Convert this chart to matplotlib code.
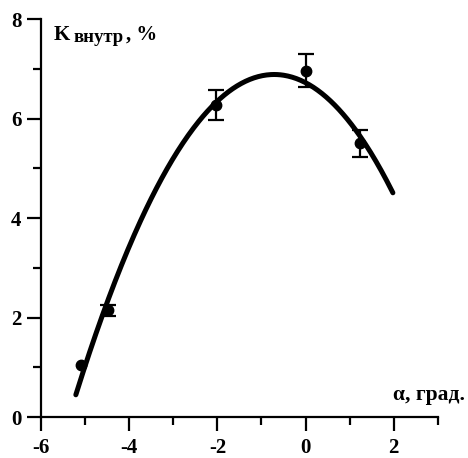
import numpy as np
import matplotlib
matplotlib.use("Agg")
import matplotlib.pyplot as plt
from matplotlib.ticker import MultipleLocator

# Measured points
alpha = [-5.10, -4.47, -2.03, 0.00, 1.23]
k_in = [1.06, 2.15, 6.27, 6.96, 5.50]
k_err = [np.nan, 0.11, 0.30, 0.33, 0.27]

# Fitted curve
curve_x = [-5.21, -4.51, -4.10, -2.89, -2.03, -0.81, 0.00, 1.31, 1.98]
curve_y = [0.46, 2.16, 3.37, 5.37, 6.25, 6.89, 6.74, 5.57, 4.49]

x_ticks = [-6, -4, -2, 0, 2]
y_ticks = [0, 2, 4, 6, 8]

plt.rcParams['font.family'] = ['Liberation Serif', 'DejaVu Serif']
plt.rcParams['font.weight'] = 'bold'
plt.rcParams['axes.unicode_minus'] = False

fig = plt.figure(figsize=(4.68, 4.58), dpi=100)
ax = fig.add_axes([0.0876, 0.0889, 0.848, 0.8696])

coef = np.polyfit(curve_x, curve_y, 3)
xs = np.linspace(min(curve_x), max(curve_x), 300)
ax.plot(xs, np.polyval(coef, xs), color='black', lw=3.6, solid_capstyle='round', zorder=2)

ax.plot(alpha, k_in, 'o', color='black', ms=7.5, zorder=3)
ax.errorbar(alpha, k_in, yerr=k_err, fmt='none', ecolor='black',
            elinewidth=1.6, capsize=6, capthick=1.6, zorder=3)

ax.set_xlim(-6, 3)
ax.set_ylim(0, 8)
ax.set_xticks(x_ticks)
ax.set_yticks(y_ticks)
ax.xaxis.set_minor_locator(MultipleLocator(1))
ax.yaxis.set_minor_locator(MultipleLocator(1))
ax.spines['top'].set_visible(False)
ax.spines['right'].set_visible(False)
for s in ('left', 'bottom'):
    ax.spines[s].set_linewidth(1.6)
ax.tick_params(which='major', direction='out', length=10, width=1.6, labelsize=15)
ax.tick_params(axis='y', which='major', pad=4)
ax.tick_params(axis='x', which='major', pad=5)
ax.tick_params(which='minor', direction='out', length=5.5, width=1.6)
for lab in ax.get_xticklabels() + ax.get_yticklabels():
    lab.set_fontweight('bold')

# Labels
fig.text(54/468, 1 - 39.5/458, 'K', fontsize=15, fontweight='bold', ha='left', va='baseline')
fig.text(73/468, 1 - 42.5/458, 'внутр', fontsize=13.5, fontweight='bold', ha='left', va='baseline')
fig.text(126/468, 1 - 39.5/458, ', %', fontsize=15, fontweight='bold', ha='left', va='baseline')
fig.text(465/468, 1 - 400/458, 'α, град.', fontsize=15.5, fontweight='bold', ha='right', va='baseline')

fig.savefig('out.png', dpi=100)
